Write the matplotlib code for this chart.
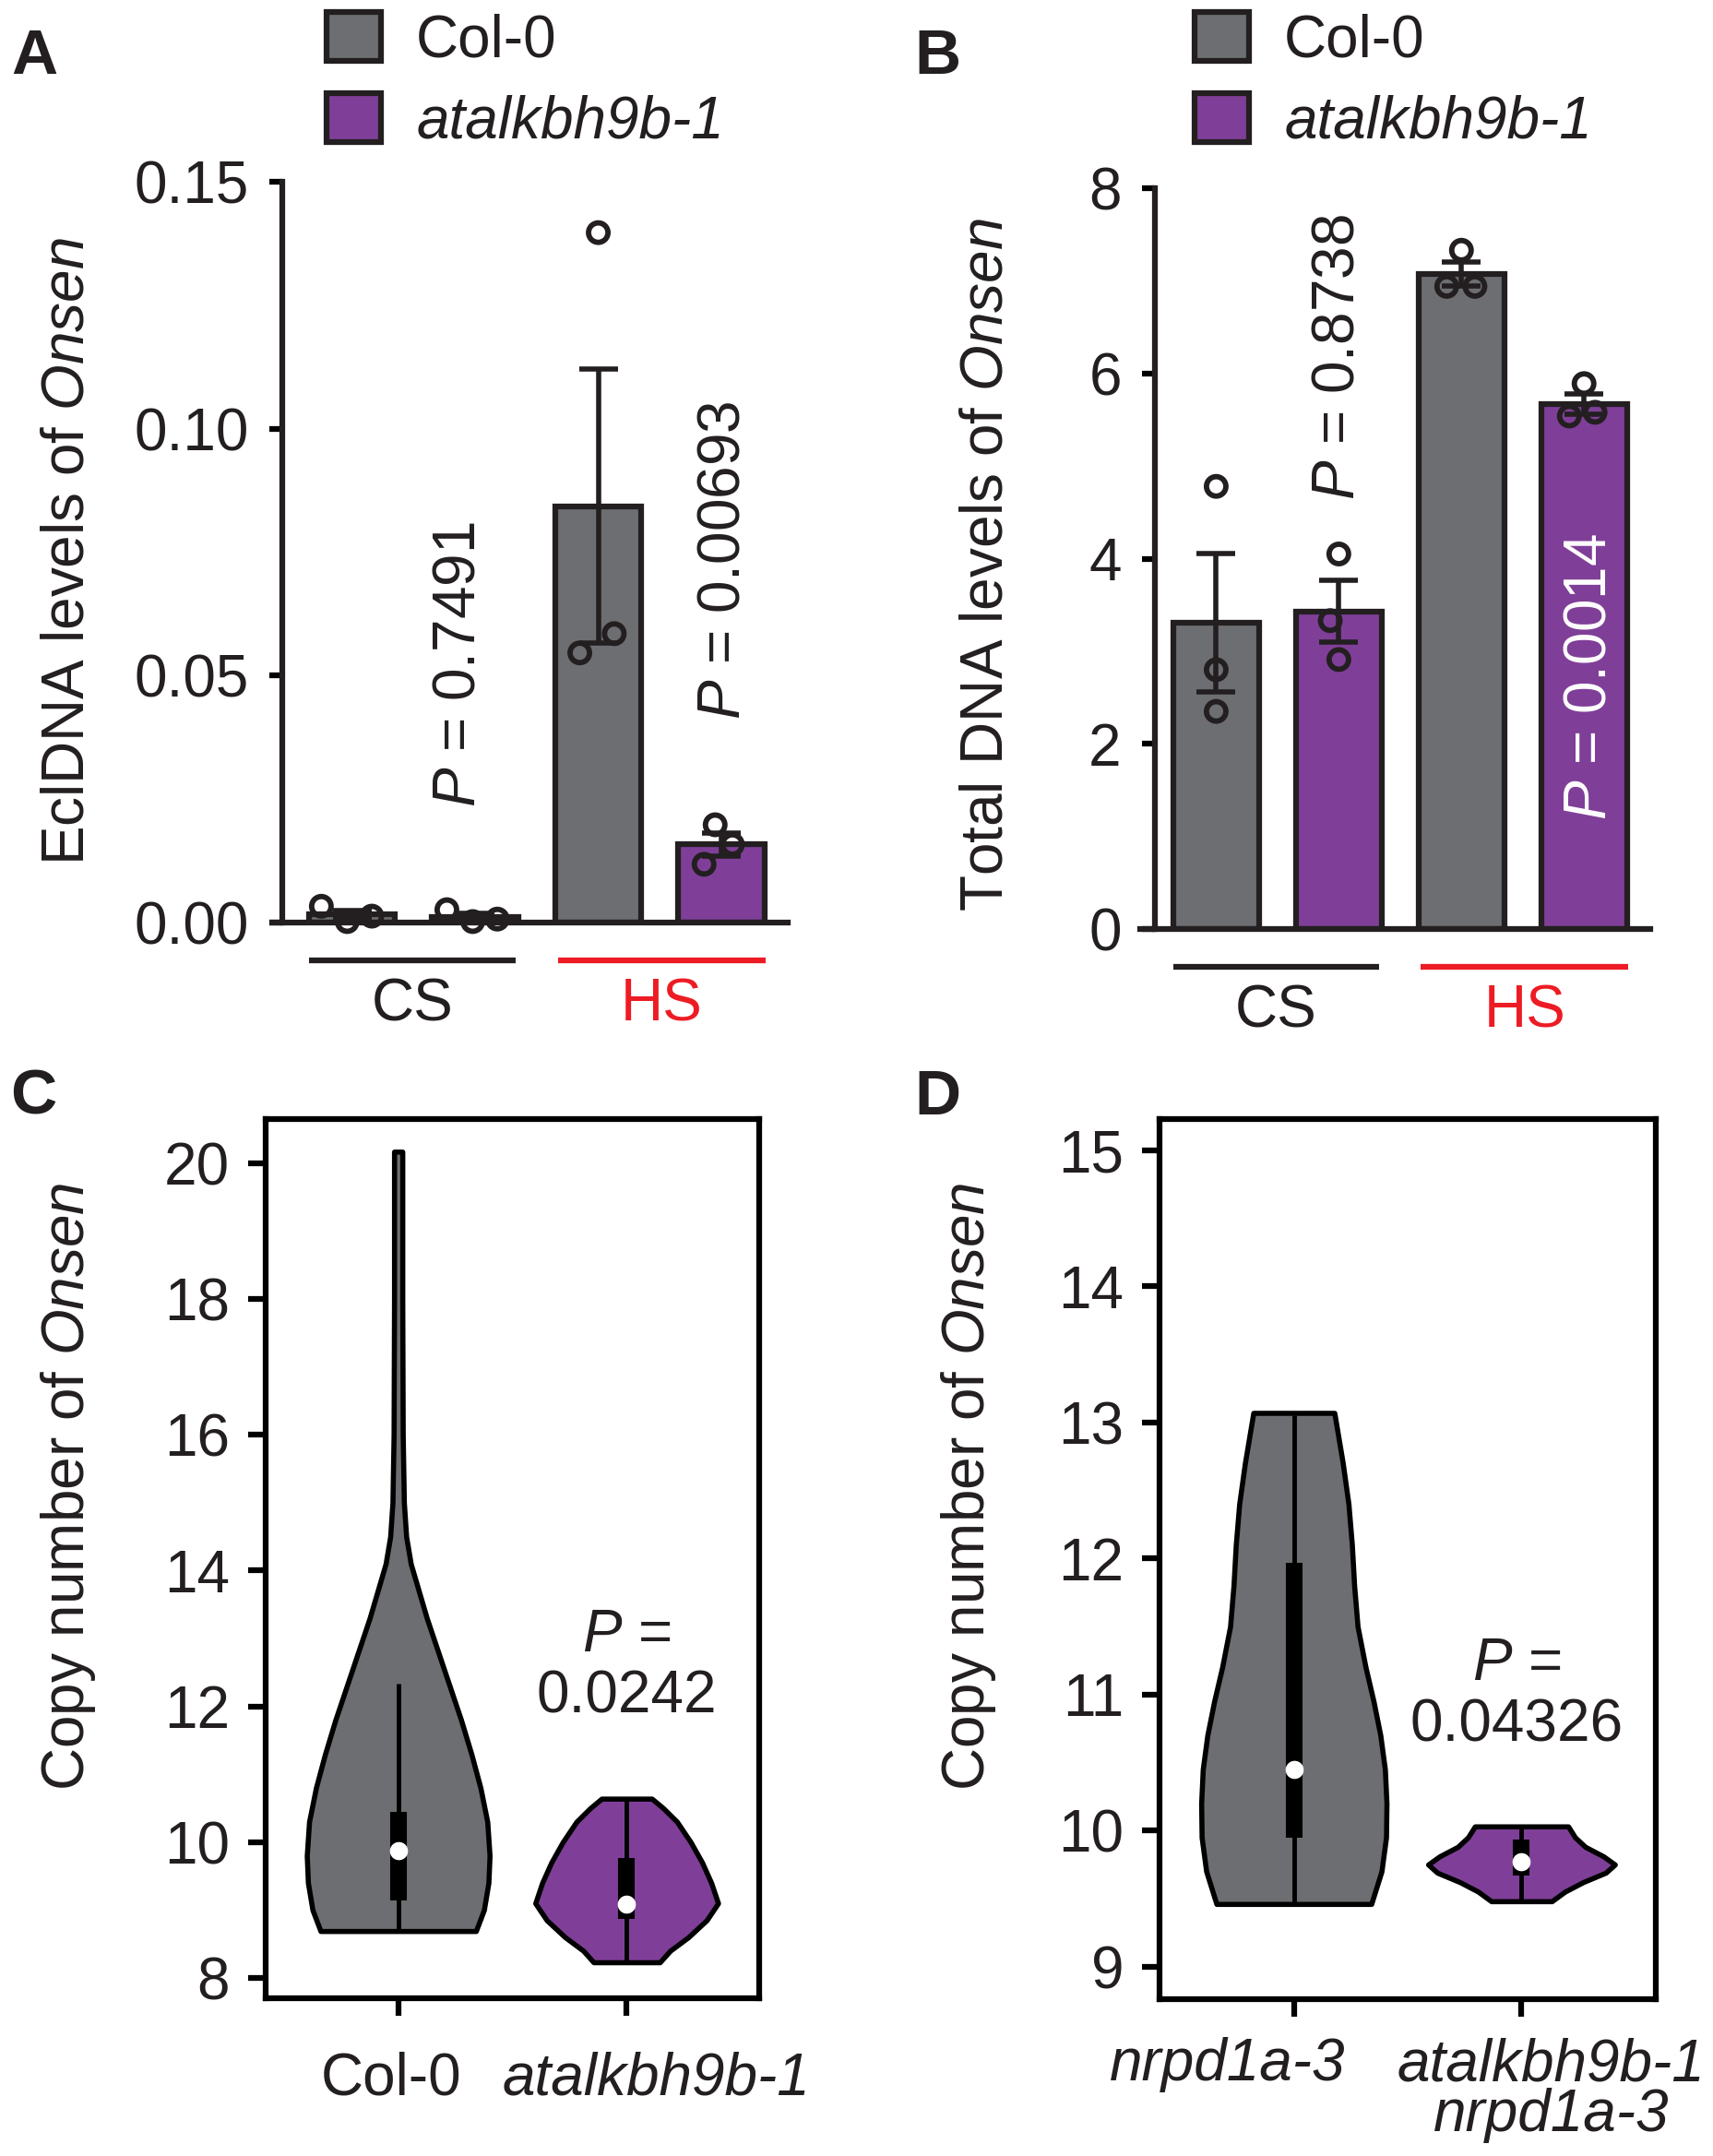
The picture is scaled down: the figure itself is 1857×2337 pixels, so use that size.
import numpy as np
import matplotlib
matplotlib.use('Agg')
import matplotlib.pyplot as plt
from matplotlib.patches import Patch

plt.rcParams['font.family'] = ['Liberation Sans', 'DejaVu Sans']
plt.rcParams['mathtext.fontset'] = 'custom'
plt.rcParams['mathtext.rm'] = 'Liberation Sans'
plt.rcParams['mathtext.it'] = 'Liberation Sans:italic'
plt.rcParams['mathtext.bf'] = 'Liberation Sans:bold'
plt.rcParams['text.color'] = '#231f20'
plt.rcParams['axes.labelcolor'] = '#231f20'
plt.rcParams['xtick.color'] = 'black'
plt.rcParams['ytick.color'] = 'black'
plt.rcParams['xtick.labelcolor'] = '#231f20'
plt.rcParams['ytick.labelcolor'] = '#231f20'

# ============================================================================
# DATA
# ============================================================================
genotypes = ['Col-0', 'atalkbh9b-1']
groups = ['CS', 'HS']

# panel A: eclDNA levels, 3 replicates per bar (CS Col-0, CS mut, HS Col-0, HS mut)
ecl_points = [[0.0033, 0.0002, 0.0013],
              [0.0026, 0.0002, 0.0007],
              [0.0546, 0.1397, 0.0585],
              [0.0118, 0.0198, 0.0158]]
ecl_pvals = ['0.7491', '0.00693']

# panel B: total DNA levels
total_points = [[4.78, 2.80, 2.35],
                [4.05, 3.33, 2.91],
                [6.94, 7.33, 6.94],
                [5.54, 5.89, 5.58]]
total_pvals = ['0.8738', '0.0014']

# panel C: violin outlines (copy number level, half width) + box stats
c_labels = ['Col-0', 'atalkbh9b-1']
c_col_y = [8.69, 9.0, 9.4, 9.8, 10.3, 10.8, 11.3, 11.8, 12.3, 12.8, 13.3, 13.7, 14.1, 14.5, 15.0, 16.0, 18.0, 20.17]
c_col_w = [0.34, 0.375, 0.395, 0.40, 0.39, 0.36, 0.32, 0.275, 0.225, 0.175, 0.125, 0.09, 0.055, 0.035, 0.025, 0.02, 0.018, 0.018]
c_mut_y = [8.23, 8.4, 8.6, 8.85, 9.1, 9.4, 9.7, 10.0, 10.3, 10.5, 10.64]
c_mut_w = [0.145, 0.19, 0.27, 0.35, 0.40, 0.37, 0.33, 0.28, 0.22, 0.16, 0.11]
c_whisk = [(8.69, 12.34), (8.23, 10.64)]
c_iqr = [(9.14, 10.44), (8.87, 9.76)]
c_median = [9.87, 9.09]
c_pval = '0.0242'

# panel D
d_labels = ['nrpd1a-3', 'atalkbh9b-1\nnrpd1a-3']
d_col_y = [9.46, 9.7, 9.95, 10.2, 10.45, 10.7, 10.95, 11.2, 11.5, 11.8, 12.1, 12.4, 12.7, 13.07]
d_col_w = [0.34, 0.385, 0.405, 0.407, 0.40, 0.38, 0.35, 0.315, 0.28, 0.265, 0.255, 0.24, 0.215, 0.178]
d_mut_y = [9.48, 9.55, 9.62, 9.69, 9.75, 9.81, 9.88, 9.95, 10.03]
d_mut_w = [0.133, 0.19, 0.27, 0.37, 0.41, 0.36, 0.28, 0.235, 0.205]
d_whisk = [(9.46, 13.05), (9.48, 10.03)]
d_iqr = [(9.95, 11.97), (9.67, 9.93)]
d_median = [10.45, 9.77]
d_pval = '0.04326'

# ============================================================================
# STYLE
# ============================================================================
GRAY = '#6d6e71'
PURPLE = '#7f3f98'
RED = '#ed1c24'
INK = '#231f20'
FS = 46
LW = 4.5
W, H = 1858, 2337

bar_pos = [0, 1, 2, 3]
bar_colors = [GRAY, PURPLE, GRAY, PURPLE]
jit_a = [[-0.25, -0.04, 0.16], [-0.23, -0.02, 0.18], [-0.15, 0.0, 0.13], [-0.14, -0.05, 0.09]]
jit_b = [[0.0, 0.0, 0.0], [0.0, -0.07, 0.0], [-0.12, 0.0, 0.11], [-0.12, 0.0, 0.09]]

fig = plt.figure(figsize=(W / 100, H / 100), dpi=100)


def px_rect(left, top, right, bottom):
    return [left / W, 1 - bottom / H, (right - left) / W, (bottom - top) / H]


def bar_panel(ax, points, jitter, ylim, yticks, fmt, spine_x, xlim):
    pts = [np.array(p) for p in points]
    means = [p.mean() for p in pts]
    ses = [p.std(ddof=1) / np.sqrt(len(p)) for p in pts]
    ax.bar(bar_pos, means, width=0.7, color=bar_colors, edgecolor=INK,
           linewidth=LW, zorder=2)
    ax.errorbar(bar_pos, means, yerr=ses, fmt='none', ecolor=INK,
                elinewidth=4, capsize=15, capthick=4, zorder=3)
    for x0, p, j in zip(bar_pos, pts, jitter):
        ax.scatter(x0 + np.array(j), p, s=230, facecolors='none',
                   edgecolors=INK, linewidths=4.2, zorder=4, clip_on=False)
    for s in ['top', 'right']:
        ax.spines[s].set_visible(False)
    ax.spines['left'].set_position(('data', spine_x))
    ax.spines['left'].set_bounds(ylim[0], ylim[1])
    for s in ['left', 'bottom']:
        ax.spines[s].set_linewidth(LW)
        ax.spines[s].set_color(INK)
    ax.set_xlim(*xlim)
    ax.set_ylim(*ylim)
    ax.set_xticks([])
    ax.set_yticks(yticks)
    ax.set_yticklabels([fmt.format(t) for t in yticks])
    ax.tick_params(axis='y', length=10, width=LW, pad=16, labelsize=FS)
    ax.patch.set_alpha(0)
    # group lines under the axis
    tr = ax.get_xaxis_transform()
    for (x1, x2), g, c in zip([(-0.35, 1.33), (1.67, 3.36)], groups, [INK, RED]):
        ax.plot([x1, x2], [-0.051, -0.051], color=c, lw=4.5, transform=tr,
                clip_on=False, solid_capstyle='butt')
        ax.text((x1 + x2) / 2, -0.112, g, color=c, fontsize=FS, ha='center',
                va='center', transform=tr)


def legend(ax, x_px):
    handles = [Patch(facecolor=GRAY, edgecolor=INK, linewidth=LW, label=genotypes[0]),
               Patch(facecolor=PURPLE, edgecolor=INK, linewidth=LW, label=genotypes[1])]
    leg = ax.legend(handles=handles, loc='upper left',
                    bbox_to_anchor=(x_px / W, 1 - 13 / H), bbox_transform=fig.transFigure,
                    frameon=False, fontsize=FS, handlelength=0.92, handleheight=0.9,
                    handletextpad=0.6, labelspacing=0.42, borderpad=0, borderaxespad=0)
    leg.get_texts()[1].set_style('italic')


# ---------------- Panel A ----------------
ax_a = fig.add_axes(px_rect(295, 197, 854, 1000))
bar_panel(ax_a, ecl_points, jit_a, (0, 0.15), [0, 0.05, 0.10, 0.15], '{:.2f}', -0.57, (-0.65, 3.54))
ax_a.text(0.87, 0.0523, r'$\mathit{P}$ = ' + ecl_pvals[0], rotation=90,
          ha='center', va='center', fontsize=FS)
ax_a.text(3.02, 0.0734, r'$\mathit{P}$ = ' + ecl_pvals[1], rotation=90,
          ha='center', va='center', fontsize=FS)
legend(ax_a, 354)
fig.text(74 / W, 1 - 598 / H, r'EclDNA levels of $\mathit{Onsen}$', rotation=90,
         ha='center', va='center', fontsize=FS)

# ---------------- Panel B ----------------
ax_b = fig.add_axes(px_rect(1236, 204, 1789, 1007))
bar_panel(ax_b, total_points, jit_b, (0, 8), [0, 2, 4, 6, 8], '{:.0f}', -0.50, (-0.62, 3.54))
ax_b.text(0.99, 6.18, r'$\mathit{P}$ = ' + total_pvals[0], rotation=90,
          ha='center', va='center', fontsize=FS)
ax_b.text(3.05, 2.72, r'$\mathit{P}$ = ' + total_pvals[1], rotation=90,
          ha='center', va='center', fontsize=FS, color='white', zorder=5)
legend(ax_b, 1295)
fig.text(1070 / W, 1 - 612 / H, r'Total DNA levels of $\mathit{Onsen}$', rotation=90,
         ha='center', va='center', fontsize=FS)


# ---------------- Violin panels ----------------
def violin_panel(ax, outlines, whisk, iqr, med, ylim, yticks, xlim, labels, label_x,
                 italic, label_y):
    for i, (yy, ww) in enumerate(outlines):
        pos = i + 1
        yy = np.array(yy)
        ww = np.array(ww)
        ax.fill_betweenx(yy, pos - ww, pos + ww, facecolor=[GRAY, PURPLE][i],
                         edgecolor='black', linewidth=4, joinstyle='round', zorder=2)
        ax.vlines(pos, whisk[i][0], whisk[i][1], color='black', lw=3.5, zorder=3)
        ax.vlines(pos, iqr[i][0], iqr[i][1], color='black', lw=13, zorder=3)
        ax.scatter([pos], [med[i]], s=200, color='white', zorder=4, linewidths=0)
    ax.set_xlim(*xlim)
    ax.set_ylim(*ylim)
    ax.set_yticks(yticks)
    ax.set_yticklabels([str(t) for t in yticks], fontsize=FS)
    ax.set_xticks([1, 2])
    ax.set_xticklabels([])
    for s in ax.spines.values():
        s.set_linewidth(LW)
        s.set_color('black')
    ax.tick_params(axis='both', length=14, width=LW, pad=14)
    # category labels (shifted apart as in the original layout)
    tr = ax.get_xaxis_transform()
    for lab, lx, it in zip(labels, label_x, italic):
        ax.text(lx, label_y, lab, transform=tr, ha='center', va='top', fontsize=FS,
                style='italic' if it else 'normal', linespacing=0.9)


ax_c = fig.add_axes(px_rect(288, 1213, 823, 2166))
violin_panel(ax_c, [(c_col_y, c_col_w), (c_mut_y, c_mut_w)], c_whisk, c_iqr, c_median,
             (7.7, 20.65), [8, 10, 12, 14, 16, 18, 20], (0.42, 2.58),
             c_labels, [0.97, 2.13], [False, True], -0.06)
ax_c.text(2, 13.04, r'$\mathit{P}$ =', ha='center', va='center', fontsize=FS)
ax_c.text(2, 12.13, c_pval, ha='center', va='center', fontsize=FS)
fig.text(74 / W, 1 - 1611 / H, r'Copy number of $\mathit{Onsen}$', rotation=90,
         ha='center', va='center', fontsize=FS)

ax_d = fig.add_axes(px_rect(1257, 1213, 1795, 2167))
violin_panel(ax_d, [(d_col_y, d_col_w), (d_mut_y, d_mut_w)], d_whisk, d_iqr, d_median,
             (8.76, 15.23), [9, 10, 11, 12, 13, 14, 15], (0.41, 2.59),
             d_labels, [0.71, 2.13], [True, True], -0.043)
ax_d.text(1.98, 11.22, r'$\mathit{P}$ =', ha='center', va='center', fontsize=FS)
ax_d.text(1.98, 10.77, d_pval, ha='center', va='center', fontsize=FS)
fig.text(1050 / W, 1 - 1611 / H, r'Copy number of $\mathit{Onsen}$', rotation=90,
         ha='center', va='center', fontsize=FS)

# ---------------- Panel letters ----------------
for letter, (x, y) in zip('ABCD', [(37, 62), (1016, 62), (36, 1189), (1016, 1190)]):
    fig.text(x / W, 1 - y / H, letter, fontsize=50, fontweight='bold',
             ha='center', va='center')

fig.savefig('out.png', dpi=100, facecolor='white')
